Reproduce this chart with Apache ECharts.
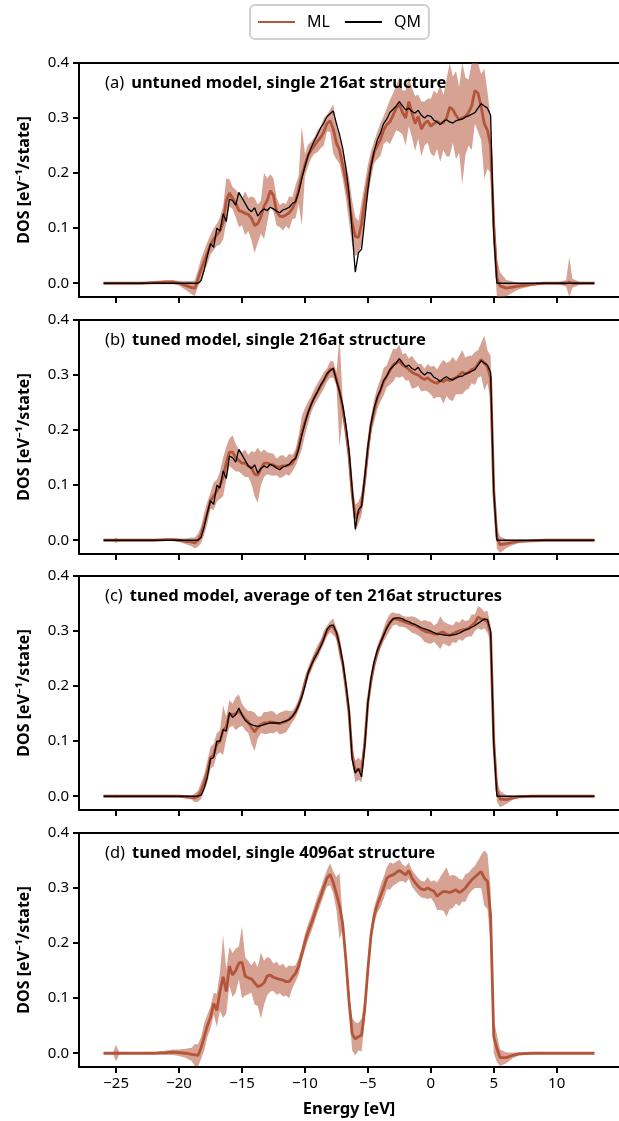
<!DOCTYPE html>
<html><head><meta charset="utf-8">
<script src="https://cdn.jsdelivr.net/npm/echarts@6/dist/echarts.min.js"></script>
<style>html,body{margin:0;padding:0;background:#fff}#c{width:619px;height:1121px}</style>
</head><body><div id="c"></div>
<script>
const energy = [
 -26, -25.25, -25, -24.75, -24, -23, -22, -21, -20.5, -20, -19.5, -19,
 -18.75, -18.5, -18.25, -18, -17.75, -17.5, -17.25, -17, -16.75, -16.5, -16.25, -16,
 -15.75, -15.5, -15.25, -15, -14.75, -14.5, -14.25, -14, -13.75, -13.5, -13.25, -13,
 -12.75, -12.5, -12.25, -12, -11.75, -11.5, -11.25, -11, -10.75, -10.5, -10.25, -10,
 -9.75, -9.5, -9.25, -9, -8.75, -8.5, -8.25, -8, -7.75, -7.5, -7.25, -7,
 -6.75, -6.5, -6.25, -6, -5.75, -5.5, -5.25, -5, -4.75, -4.5, -4.25, -4,
 -3.75, -3.5, -3.25, -3, -2.75, -2.5, -2.25, -2, -1.75, -1.5, -1.25, -1,
 -0.75, -0.5, -0.25, 0, 0.25, 0.5, 0.75, 1, 1.25, 1.5, 1.75, 2,
 2.25, 2.5, 2.75, 3, 3.25, 3.5, 3.75, 4, 4.25, 4.5, 4.75, 5,
 5.25, 5.5,
 6, 6.5, 7, 8, 9, 10, 10.75, 11, 11.25, 12, 13
];

// QM reference, single 216-atom structure (panels a, b)
const qmSingle = [
 0, 0, 0, 0, 0, 0, 0, 0, 0, 0, 0, 0,
 0, 0, 0.005, 0.025, 0.05, 0.072, 0.065, 0.1, 0.095, 0.126, 0.112, 0.153,
 0.15, 0.142, 0.165, 0.155, 0.145, 0.135, 0.13, 0.137, 0.122, 0.13, 0.135, 0.132,
 0.138, 0.135, 0.131, 0.128, 0.133, 0.135, 0.138, 0.145, 0.148, 0.165, 0.19, 0.212,
 0.232, 0.247, 0.259, 0.27, 0.282, 0.291, 0.303, 0.308, 0.313, 0.29, 0.27, 0.245,
 0.21, 0.164, 0.095, 0.02, 0.055, 0.062, 0.115, 0.17, 0.212, 0.24, 0.26, 0.273,
 0.29, 0.298, 0.31, 0.316, 0.322, 0.33, 0.322, 0.315, 0.318, 0.312, 0.309, 0.314,
 0.305, 0.3, 0.305, 0.303, 0.296, 0.293, 0.288, 0.294, 0.297, 0.293, 0.291, 0.295,
 0.297, 0.298, 0.302, 0.304, 0.307, 0.31, 0.318, 0.326, 0.322, 0.318, 0.305, 0.09,
 0, 0,
 0, 0, 0, 0, 0, 0, 0, 0, 0, 0, 0
];
// QM reference, average of ten structures (panel c)
const qmAverage = [
 0, 0, 0, 0, 0, 0, 0, 0, 0, 0, 0, 0,
 0, 0, 0.002, 0.015, 0.035, 0.068, 0.07, 0.1, 0.1, 0.121, 0.118, 0.152,
 0.143, 0.148, 0.16, 0.148, 0.138, 0.133, 0.13, 0.128, 0.127, 0.128, 0.13, 0.132,
 0.133, 0.133, 0.133, 0.133, 0.135, 0.137, 0.139, 0.145, 0.153, 0.165, 0.18, 0.2,
 0.224, 0.238, 0.25, 0.26, 0.272, 0.285, 0.303, 0.31, 0.311, 0.298, 0.275, 0.245,
 0.205, 0.158, 0.067, 0.042, 0.05, 0.035, 0.09, 0.17, 0.215, 0.245, 0.265, 0.279,
 0.292, 0.305, 0.315, 0.322, 0.324, 0.324, 0.322, 0.319, 0.317, 0.314, 0.312, 0.309,
 0.306, 0.304, 0.302, 0.3, 0.297, 0.295, 0.294, 0.293, 0.292, 0.292, 0.293, 0.294,
 0.296, 0.299, 0.302, 0.304, 0.307, 0.31, 0.314, 0.318, 0.322, 0.321, 0.3, 0.095,
 0, 0,
 0, 0, 0, 0, 0, 0, 0, 0, 0, 0, 0
];

const mlA = [
 0, 0, 0, 0, 0, 0, 0.001, 0.002, 0.002, 0, -0.004, -0.008,
 -0.009, 0.008, 0.025, 0.04, 0.055, 0.07, 0.08, 0.088, 0.095, 0.11, 0.15, 0.164,
 0.155, 0.145, 0.132, 0.13, 0.127, 0.125, 0.118, 0.105, 0.108, 0.12, 0.14, 0.15,
 0.168, 0.16, 0.13, 0.122, 0.121, 0.124, 0.128, 0.136, 0.148, 0.17, 0.195, 0.215,
 0.232, 0.242, 0.25, 0.258, 0.265, 0.275, 0.29, 0.295, 0.28, 0.255, 0.242, 0.215,
 0.185, 0.152, 0.11, 0.085, 0.083, 0.108, 0.15, 0.185, 0.215, 0.238, 0.25, 0.261,
 0.278, 0.288, 0.293, 0.305, 0.318, 0.325, 0.31, 0.3, 0.33, 0.31, 0.29, 0.303,
 0.28, 0.29, 0.295, 0.285, 0.29, 0.294, 0.29, 0.292, 0.3, 0.32, 0.315, 0.305,
 0.297, 0.3, 0.303, 0.31, 0.322, 0.35, 0.345, 0.32, 0.29, 0.278, 0.25, 0.105,
 0.01, -0.005,
 -0.009, -0.007, -0.005, -0.002, 0, 0, 0, 0.002, 0, 0, 0
];
const errA = [
 0.001, 0.001, 0.001, 0.001, 0.001, 0.001, 0.003, 0.004, 0.004, 0.004, 0.008, 0.012,
 0.014, 0.015, 0.02, 0.02, 0.02, 0.018, 0.02, 0.02, 0.025, 0.03, 0.04, 0.025,
 0.02, 0.025, 0.03, 0.025, 0.04, 0.03, 0.04, 0.05, 0.035, 0.03, 0.06, 0.04,
 0.03, 0.03, 0.025, 0.02, 0.025, 0.02, 0.03, 0.02, 0.03, 0.025, 0.09, 0.02,
 0.02, 0.015, 0.015, 0.02, 0.02, 0.025, 0.015, 0.02, 0.045, 0.03, 0.025, 0.025,
 0.03, 0.04, 0.04, 0.035, 0.03, 0.04, 0.03, 0.03, 0.025, 0.02, 0.025, 0.03,
 0.025, 0.03, 0.04, 0.04, 0.04, 0.05, 0.04, 0.05, 0.045, 0.045, 0.05, 0.04,
 0.05, 0.04, 0.04, 0.05, 0.06, 0.05, 0.07, 0.05, 0.07, 0.09, 0.06, 0.08,
 0.06, 0.12, 0.07, 0.06, 0.08, 0.06, 0.07, 0.06, 0.1, 0.07, 0.05, 0.04,
 0.035, 0.025,
 0.015, 0.01, 0.006, 0.003, 0.001, 0.001, 0.006, 0.045, 0.008, 0.001, 0.001
];

const mlB = [
 0, 0, 0, 0, 0, 0, 0, 0.001, 0.001, 0, -0.002, -0.003,
 -0.005, 0, 0.01, 0.03, 0.05, 0.072, 0.08, 0.09, 0.1, 0.115, 0.14, 0.16,
 0.16, 0.15, 0.145, 0.14, 0.14, 0.135, 0.132, 0.12, 0.118, 0.13, 0.14, 0.14,
 0.138, 0.137, 0.133, 0.133, 0.135, 0.135, 0.137, 0.14, 0.15, 0.17, 0.195, 0.215,
 0.232, 0.247, 0.26, 0.27, 0.28, 0.29, 0.3, 0.31, 0.31, 0.293, 0.27, 0.24,
 0.2, 0.155, 0.085, 0.04, 0.05, 0.065, 0.11, 0.165, 0.21, 0.235, 0.258, 0.272,
 0.288, 0.298, 0.308, 0.318, 0.322, 0.325, 0.318, 0.315, 0.31, 0.305, 0.302, 0.3,
 0.295, 0.292, 0.295, 0.29, 0.287, 0.285, 0.29, 0.288, 0.292, 0.29, 0.293, 0.295,
 0.3, 0.305, 0.302, 0.305, 0.31, 0.312, 0.32, 0.328, 0.322, 0.315, 0.295, 0.09,
 0.005, -0.008,
 -0.006, -0.004, -0.002, -0.001, 0, 0, 0, 0, 0, 0, 0
];
const errB = [
 0.001, 0.001, 0.005, 0.001, 0.001, 0.001, 0.001, 0.002, 0.002, 0.003, 0.005, 0.008,
 0.01, 0.012, 0.015, 0.02, 0.02, 0.015, 0.025, 0.02, 0.025, 0.035, 0.03, 0.025,
 0.03, 0.025, 0.02, 0.02, 0.025, 0.02, 0.03, 0.04, 0.05, 0.03, 0.025, 0.02,
 0.02, 0.02, 0.015, 0.02, 0.02, 0.015, 0.02, 0.015, 0.015, 0.02, 0.03, 0.025,
 0.02, 0.015, 0.015, 0.015, 0.015, 0.015, 0.012, 0.015, 0.015, 0.012, 0.1, 0.015,
 0.015, 0.015, 0.02, 0.025, 0.02, 0.02, 0.02, 0.02, 0.015, 0.02, 0.02, 0.02,
 0.025, 0.02, 0.025, 0.03, 0.025, 0.03, 0.02, 0.025, 0.02, 0.03, 0.025, 0.02,
 0.025, 0.02, 0.025, 0.025, 0.03, 0.025, 0.03, 0.04, 0.03, 0.035, 0.04, 0.03,
 0.035, 0.04, 0.03, 0.03, 0.025, 0.03, 0.025, 0.03, 0.05, 0.03, 0.04, 0.03,
 0.02, 0.015,
 0.008, 0.005, 0.003, 0.001, 0.001, 0.001, 0.001, 0.001, 0.001, 0.001, 0.001
];

const mlC = [
 0, 0, 0, 0, 0, 0, 0, 0, 0, 0, -0.001, -0.002,
 -0.003, 0, 0.01, 0.025, 0.045, 0.07, 0.075, 0.095, 0.1, 0.12, 0.125, 0.15,
 0.148, 0.15, 0.155, 0.148, 0.14, 0.135, 0.125, 0.117, 0.125, 0.13, 0.133, 0.133,
 0.135, 0.134, 0.133, 0.132, 0.134, 0.136, 0.14, 0.145, 0.153, 0.166, 0.183, 0.205,
 0.224, 0.238, 0.252, 0.262, 0.274, 0.288, 0.3, 0.308, 0.308, 0.296, 0.272, 0.242,
 0.2, 0.152, 0.075, 0.045, 0.05, 0.045, 0.095, 0.17, 0.21, 0.24, 0.262, 0.278,
 0.293, 0.306, 0.316, 0.322, 0.322, 0.32, 0.318, 0.316, 0.314, 0.312, 0.31, 0.307,
 0.303, 0.3, 0.298, 0.297, 0.295, 0.294, 0.297, 0.298, 0.294, 0.292, 0.295, 0.298,
 0.3, 0.302, 0.303, 0.305, 0.31, 0.315, 0.325, 0.322, 0.32, 0.317, 0.295, 0.1,
 0.01, -0.005,
 -0.006, -0.003, -0.001, 0, 0, 0, 0, 0, 0, 0, 0
];
const errC = [
 0.001, 0.001, 0.003, 0.001, 0.001, 0.001, 0.001, 0.001, 0.002, 0.002, 0.003, 0.004,
 0.008, 0.01, 0.015, 0.015, 0.02, 0.02, 0.02, 0.02, 0.02, 0.045, 0.02, 0.025,
 0.02, 0.03, 0.03, 0.02, 0.02, 0.02, 0.03, 0.035, 0.02, 0.015, 0.02, 0.02,
 0.02, 0.02, 0.015, 0.02, 0.02, 0.02, 0.015, 0.01, 0.01, 0.01, 0.01, 0.012,
 0.01, 0.01, 0.01, 0.012, 0.01, 0.012, 0.01, 0.01, 0.015, 0.01, 0.02, 0.01,
 0.01, 0.01, 0.015, 0.02, 0.02, 0.02, 0.015, 0.01, 0.01, 0.01, 0.012, 0.01,
 0.012, 0.015, 0.015, 0.012, 0.01, 0.012, 0.01, 0.01, 0.012, 0.015, 0.015, 0.015,
 0.015, 0.02, 0.02, 0.02, 0.015, 0.02, 0.03, 0.02, 0.02, 0.02, 0.015, 0.02,
 0.015, 0.02, 0.015, 0.015, 0.02, 0.015, 0.02, 0.02, 0.015, 0.02, 0.015, 0.02,
 0.02, 0.015,
 0.008, 0.004, 0.002, 0.001, 0.001, 0.001, 0.001, 0.001, 0.001, 0.001, 0.001
];

const mlD = [
 0, 0, 0, 0, 0, 0, 0, 0.001, 0.002, 0.001, 0, -0.002,
 -0.003, -0.004, 0.01, 0.03, 0.05, 0.065, 0.09, 0.078, 0.112, 0.139, 0.112, 0.158,
 0.142, 0.15, 0.164, 0.165, 0.14, 0.137, 0.135, 0.128, 0.121, 0.123, 0.128, 0.14,
 0.142, 0.138, 0.136, 0.134, 0.133, 0.13, 0.13, 0.138, 0.145, 0.158, 0.18, 0.202,
 0.22, 0.235, 0.252, 0.27, 0.285, 0.302, 0.318, 0.325, 0.31, 0.29, 0.267, 0.235,
 0.17, 0.095, 0.035, 0.026, 0.03, 0.033, 0.08, 0.152, 0.215, 0.25, 0.27, 0.285,
 0.3, 0.318, 0.322, 0.324, 0.328, 0.332, 0.328, 0.324, 0.332, 0.318, 0.31, 0.303,
 0.298, 0.297, 0.3, 0.297, 0.294, 0.285, 0.29, 0.294, 0.293, 0.292, 0.294, 0.297,
 0.292, 0.295, 0.3, 0.308, 0.315, 0.32, 0.325, 0.33, 0.318, 0.312, 0.25, 0.03,
 0.009, -0.008,
 -0.008, -0.004, -0.001, 0, 0, 0, 0, 0, 0, 0, 0
];
const errD = [
 0.001, 0.002, 0.015, 0.002, 0.001, 0.001, 0.002, 0.004, 0.005, 0.006, 0.008, 0.012,
 0.02, 0.02, 0.02, 0.025, 0.02, 0.02, 0.02, 0.03, 0.035, 0.075, 0.04, 0.035,
 0.04, 0.04, 0.03, 0.065, 0.035, 0.03, 0.025, 0.04, 0.035, 0.06, 0.04, 0.035,
 0.03, 0.025, 0.03, 0.025, 0.03, 0.025, 0.03, 0.02, 0.015, 0.015, 0.012, 0.015,
 0.015, 0.015, 0.015, 0.015, 0.015, 0.015, 0.015, 0.02, 0.02, 0.03, 0.06, 0.01,
 0.01, 0.015, 0.03, 0.03, 0.025, 0.03, 0.02, 0.015, 0.015, 0.015, 0.015, 0.02,
 0.02, 0.02, 0.025, 0.02, 0.02, 0.02, 0.015, 0.015, 0.015, 0.015, 0.015, 0.015,
 0.015, 0.015, 0.02, 0.015, 0.02, 0.025, 0.03, 0.035, 0.045, 0.03, 0.03, 0.025,
 0.025, 0.02, 0.025, 0.02, 0.02, 0.02, 0.025, 0.03, 0.05, 0.05, 0.05, 0.03,
 0.025, 0.015,
 0.01, 0.005, 0.003, 0.002, 0.001, 0.001, 0.001, 0.001, 0.001, 0.001, 0.001
];

const xTicks = [-25, -20, -15, -10, -5, 0, 5, 10];
const yTicks = [0, 0.1, 0.2, 0.3, 0.4];
const panelLabels = ['(a)', '(b)', '(c)', '(d)'];
const panelTitles = [
 'untuned model, single 216at structure',
 'tuned model, single 216at structure',
 'tuned model, average of ten 216at structures',
 'tuned model, single 4096at structure'
];
const seriesNames = ['ML', 'QM'];

const panels = [
 { ml: mlA, err: errA, qm: qmSingle },
 { ml: mlB, err: errB, qm: qmSingle },
 { ml: mlC, err: errC, qm: qmAverage },
 { ml: mlD, err: errD, qm: null }
];

const FONT = '"Noto Sans", "DejaVu Sans", sans-serif';
const ML_COLOR = '#b4553a';
const BAND_COLOR = 'rgba(180,85,58,0.55)';
const Y_MIN = -0.025, Y_MAX = 0.4, X_MIN = -27.95, X_MAX = 14.95;
const tops = [63, 320, 576, 833];
const GRID_LEFT = 79, GRID_W = 543, GRID_H = 234;

const grids = [], xAxes = [], yAxes = [], series = [], titles = [];
const fmtX = v => (v < 0 ? '\u2212' + Math.abs(v) : String(v));
const clampY = v => Math.max(Y_MIN, Math.min(Y_MAX, v));
const spine = { show: true, onZero: false, lineStyle: { color: '#000', width: 2 } };

panels.forEach((p, i) => {
  const last = i === panels.length - 1;
  grids.push({ left: GRID_LEFT, top: tops[i], width: GRID_W, height: GRID_H });
  xAxes.push({
    type: 'value', gridIndex: i, min: X_MIN, max: X_MAX, position: 'bottom',
    axisLine: spine,
    axisTick: { show: true, inside: false, length: 6, customValues: xTicks, lineStyle: { color: '#000', width: 2 } },
    axisLabel: { show: last, customValues: xTicks, formatter: fmtX, margin: 9, color: '#000', fontFamily: FONT, fontSize: 15 },
    splitLine: { show: false },
    name: last ? 'Energy [eV]' : '', nameLocation: 'middle', nameGap: 34,
    nameTextStyle: { fontFamily: FONT, fontSize: 16.5, fontWeight: 'bold', color: '#000' }
  });
  xAxes.push({
    type: 'value', gridIndex: i, min: X_MIN, max: X_MAX, position: 'top',
    axisLine: spine,
    axisTick: { show: false }, axisLabel: { show: false }, splitLine: { show: false }
  });
  yAxes.push({
    type: 'value', gridIndex: i, min: Y_MIN, max: Y_MAX, position: 'left',
    axisLine: spine,
    axisTick: { show: true, inside: false, length: 6, customValues: yTicks, lineStyle: { color: '#000', width: 2 } },
    axisLabel: { customValues: yTicks, formatter: v => v.toFixed(1), margin: 10, color: '#000', fontFamily: FONT, fontSize: 15 },
    splitLine: { show: false },
    name: 'DOS [eV\u207B\u00B9/state]', nameLocation: 'middle', nameRotate: 90, nameGap: 47,
    nameTextStyle: { fontFamily: FONT, fontSize: 16, fontWeight: 'bold', color: '#000' }
  });
  series.push({
    type: 'custom', name: 'band' + i, xAxisIndex: 2 * i, yAxisIndex: i, clip: true, silent: true,
    data: [[0, 0]], z: 1,
    renderItem: (params, api) => {
      const up = [], lo = [];
      for (let k = 0; k < energy.length; k++) {
        up.push(api.coord([energy[k], clampY(p.ml[k] + p.err[k])]));
        lo.push(api.coord([energy[k], clampY(p.ml[k] - p.err[k])]));
      }
      return { type: 'polygon', shape: { points: up.concat(lo.reverse()) }, style: { fill: BAND_COLOR, stroke: null } };
    }
  });
  series.push({
    type: 'line', name: seriesNames[0], xAxisIndex: 2 * i, yAxisIndex: i,
    data: energy.map((e, k) => [e, p.ml[k]]), symbol: 'none', showSymbol: false,
    lineStyle: { color: ML_COLOR, width: 2.8 }, itemStyle: { color: ML_COLOR }, z: 3
  });
  if (p.qm) {
    series.push({
      type: 'line', name: seriesNames[1], xAxisIndex: 2 * i, yAxisIndex: i,
      data: energy.map((e, k) => [e, p.qm[k]]), symbol: 'none', showSymbol: false,
      lineStyle: { color: '#000', width: 1.3 }, itemStyle: { color: '#000' }, z: 4
    });
  }
  titles.push({
    text: '{r|' + panelLabels[i] + '}{b|' + panelTitles[i] + '}',
    left: 105, top: tops[i] + 12, padding: 0,
    textStyle: { fontWeight: 'normal', rich: {
      r: { fontFamily: FONT, fontSize: 16.5, fontWeight: 'normal', color: '#000', padding: [0, 7, 0, 0] },
      b: { fontFamily: FONT, fontSize: 16.5, fontWeight: 'bold', color: '#000' }
    } }
  });
});

const chart = echarts.init(document.getElementById('c'), null, { renderer: 'canvas' });
chart.setOption({
  animation: false,
  backgroundColor: '#fff',
  title: titles,
  legend: {
    data: seriesNames, left: 250, top: 5,
    itemWidth: 37, itemHeight: 14, itemGap: 14,
    padding: [9, 8, 9, 7],
    itemStyle: { opacity: 0 },
    borderColor: '#d0d0d0', borderWidth: 2, borderRadius: 5,
    textStyle: { fontFamily: FONT, fontSize: 16, color: '#000', padding: [0, 0, 0, 7] }
  },
  grid: grids, xAxis: xAxes, yAxis: yAxes, series: series
});
</script></body></html>
